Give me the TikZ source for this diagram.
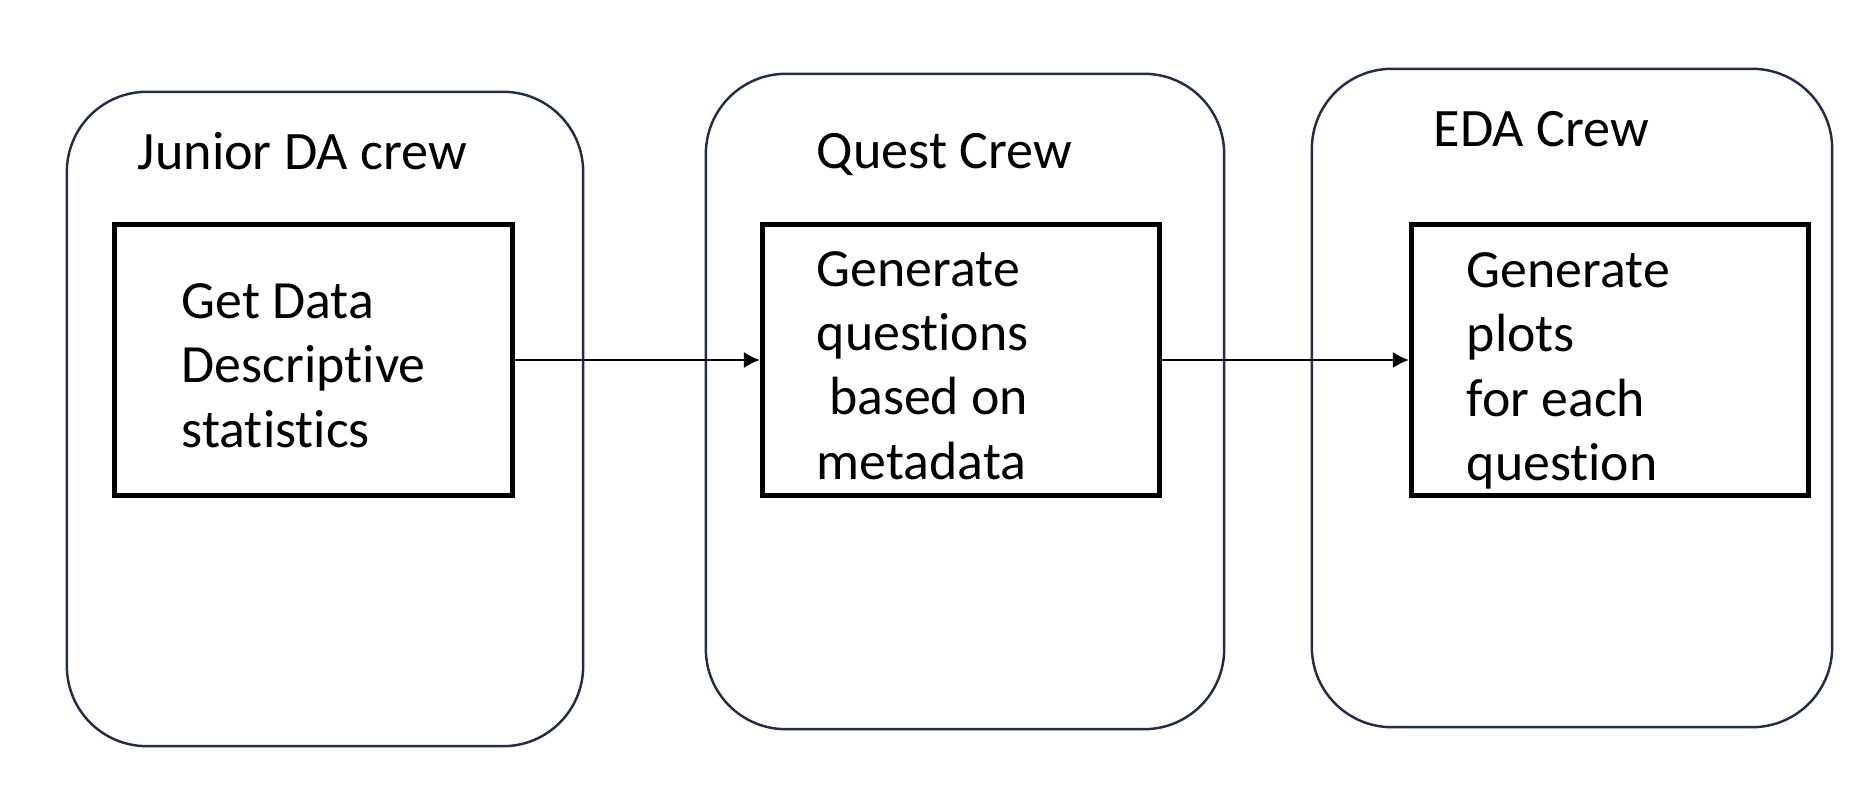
\documentclass[tikz,border=0pt]{standalone}
\usepackage{fontspec}
\setmainfont{Carlito}[Ligatures=NoCommon]
\usepackage{xcolor}
\usetikzlibrary{arrows.meta}
\definecolor{crewnavy}{RGB}{34,45,74}

\begin{document}
\begin{tikzpicture}[x=.01cm, y=-.01cm, line width=.5pt,
    crewbox/.style={draw=crewnavy, line width=.7pt, rounded corners=.8cm},
    taskbox/.style={draw=black, line width=1.4pt, minimum width=3.97cm, minimum height=2.7cm},
    tasktext/.style={anchor=base west, inner sep=0pt, text width=3cm, align=flush left, font=\fontsize{15.3}{18.2}\selectfont},
    crewlabel/.style={anchor=base west, inner sep=0pt, font=\fontsize{15.4}{18}\selectfont}]
    \useasboundingbox (0, 0) rectangle (1852, 810);

    % draw rounded crew boxes
    \node[crewbox, minimum width=5.16cm, minimum height=6.54cm] (junior) at (325, 419) {};
    \node[crewbox, minimum width=5.18cm, minimum height=6.55cm] (quest) at (965, 401.5) {};
    \node[crewbox, minimum width=5.2cm, minimum height=6.58cm] (eda) at (1572, 398) {};

    % crew titles
    \node[crewlabel] (juniortitle) at (137, 170) {Junior DA crew};
    \node[crewlabel] (questtitle) at (816, 169) {Quest Crew};
    \node[crewlabel] (edatitle) at (1433, 147) {EDA Crew};

    % draw task boxes
    \node[taskbox] (getdata) at (313.5, 360) {};
    \node[taskbox] (genquest) at (961, 360) {};
    \node[taskbox] (genplots) at (1610, 360) {};

    % task texts, placed at their first baseline
    \node[tasktext] (getdatatext) at (181, 319) {Get Data\\ Descriptive\\ statistics};
    \node[tasktext] (genquesttext) at (816, 287) {Generate\\ questions\\ \ based on\\ metadata};
    \node[tasktext] (genplotstext) at (1466, 288) {Generate\\ plots\\ for each\\ question};

    % draw arrows between tasks
    \draw[-{Latex[length=.16cm, width=.16cm]}] (getdata) -- (genquest);
    \draw[-{Latex[length=.16cm, width=.16cm]}] (genquest) -- (genplots);
\end{tikzpicture}
\end{document}
